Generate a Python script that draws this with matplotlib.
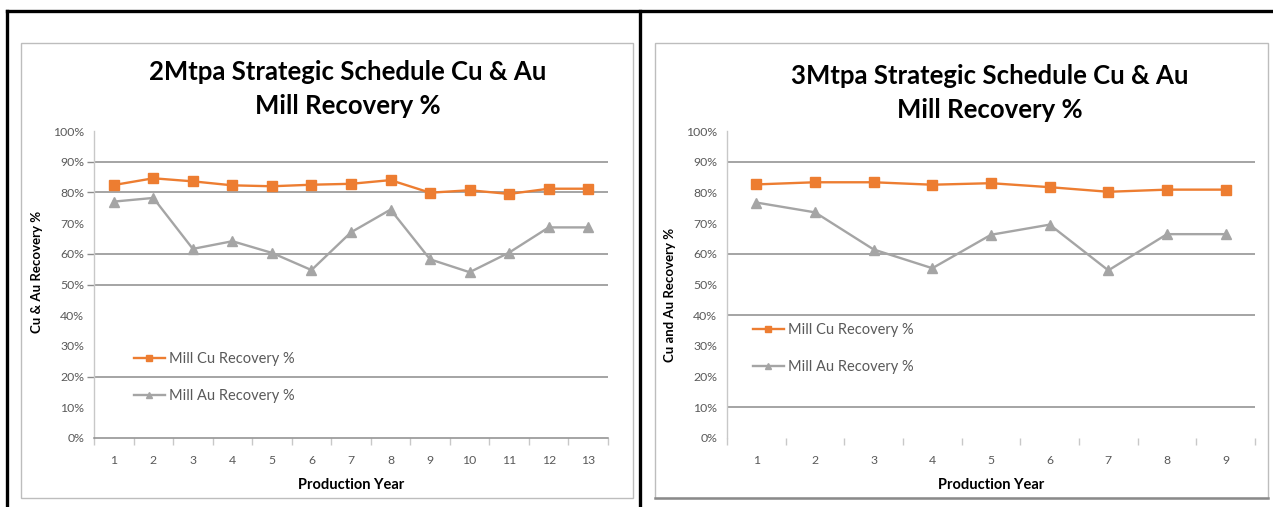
import matplotlib
matplotlib.use("Agg")
import matplotlib.pyplot as plt
from matplotlib.lines import Line2D
from matplotlib.patches import Rectangle

# ---- data -------------------------------------------------------------
years_2mtpa = [1, 2, 3, 4, 5, 6, 7, 8, 9, 10, 11, 12, 13]
cu_2mtpa = [82.4, 84.6, 83.6, 82.3, 82.0, 82.5, 82.8, 84.0, 79.9, 80.7, 79.5, 81.2, 81.2]
au_2mtpa = [77.0, 78.2, 61.6, 64.1, 60.3, 54.7, 67.0, 74.4, 58.2, 54.0, 60.4, 68.6, 68.6]

years_3mtpa = [1, 2, 3, 4, 5, 6, 7, 8, 9]
cu_3mtpa = [82.6, 83.3, 83.3, 82.5, 83.0, 81.7, 80.2, 80.9, 80.9]
au_3mtpa = [76.7, 73.5, 61.4, 55.3, 66.2, 69.5, 54.6, 66.4, 66.4]

y_ticks = [0, 10, 20, 30, 40, 50, 60, 70, 80, 90, 100]
grid_2mtpa = [20, 50, 60, 80, 90]
grid_3mtpa = [10, 40, 60, 90]

cu_label = "Mill Cu Recovery %"
au_label = "Mill Au Recovery %"

# ---- style ------------------------------------------------------------
FONT = "Lato"
ORANGE = "#ED7D31"
GREY = "#A5A5A5"
TEXT = "#595959"
GRID = "#8C8C8C"
AXIS = "#C8C8C8"

W, H = 1273, 507
fig = plt.figure(figsize=(W / 100, H / 100), dpi=100)


def fx(px):
    return px / W


def fy(py):
    return 1 - py / H


# table frame
for (x0, y0, x1, y1) in [(7, 11, W, 11), (7, 11, 7, H), (640, 11, 640, H)]:
    fig.add_artist(Line2D([fx(x0), fx(x1)], [fy(y0), fy(y1)], color="black",
                          lw=2.4, transform=fig.transFigure))

# chart borders
for (x0, x1) in [(21, 633), (655, 1268)]:
    fig.add_artist(Rectangle((fx(x0), fy(498)), fx(x1 - x0), (498 - 43) / H,
                             transform=fig.transFigure, fill=False,
                             edgecolor="#BDBDBD", lw=1.0))
fig.add_artist(Line2D([fx(655), fx(1268)], [fy(498), fy(498)], color="#8A8A8A",
                      lw=1.8, transform=fig.transFigure))


def make_chart(left_px, right_px, years, cu, au, grid_levels, title, ylabel,
               title_x, title_y, ylabel_x, ylabel_y, legend_xy, bottom_axis,
               ytick_marks):
    ax = fig.add_axes([fx(left_px), fy(438), fx(right_px - left_px), (438 - 131) / H])
    n = len(years)
    ax.set_xlim(0.5, n + 0.5)
    ax.set_ylim(0, 100)

    ax.plot(years, cu, color=ORANGE, lw=1.7, marker="s", ms=6.5,
            label=cu_label, zorder=3)
    ax.plot(years, au, color=GREY, lw=1.7, marker="^", ms=6.5,
            label=au_label, zorder=3)

    # labelled ticks every 10 %, gridlines only at selected levels
    ax.yaxis.remove_overlapping_locs = False
    ax.set_yticks(y_ticks)
    ax.set_yticklabels([f"{v}%" for v in y_ticks])
    ax.set_yticks(grid_levels, minor=True)
    ax.grid(True, axis="y", which="minor", color=GRID, lw=1.1)
    ax.grid(False, axis="y", which="major")
    ax.tick_params(axis="y", which="major", length=0, pad=7,
                   labelsize=8.8, labelcolor=TEXT)
    ax.tick_params(axis="y", which="minor",
                   length=5 if ytick_marks else 0, color=GRID, width=1)

    ax.set_xticks(years)
    ax.set_xticklabels([str(v) for v in years])
    ax.set_xticks([v + 0.5 for v in range(n + 1)], minor=True)
    ax.tick_params(axis="x", which="major", length=0, pad=12,
                   labelsize=8.8, labelcolor=TEXT)
    ax.tick_params(axis="x", which="minor", length=5, color=AXIS, width=1)

    for s in ("top", "right"):
        ax.spines[s].set_visible(False)
    ax.spines["left"].set_color(AXIS)
    ax.spines["left"].set_linewidth(1.0)
    if bottom_axis:
        ax.spines["bottom"].set_color(GRID)
        ax.spines["bottom"].set_linewidth(1.1)
    else:
        ax.spines["bottom"].set_visible(False)

    for lab in ax.get_xticklabels() + ax.get_yticklabels():
        lab.set_fontfamily(FONT)

    fig.text(fx(title_x), fy(title_y), title, ha="center", va="center",
             fontsize=18.5, fontweight="bold", family=FONT, color="black",
             linespacing=1.55)
    fig.text(fx(ylabel_x), fy(ylabel_y), ylabel, rotation=90, ha="center",
             va="center", fontsize=9.5, fontweight="bold", family=FONT)
    fig.text(fx((left_px + right_px) / 2), fy(485), "Production Year",
             ha="center", va="center", fontsize=10.5, fontweight="bold",
             family=FONT)

    leg = ax.legend(loc="upper left",
                    bbox_to_anchor=(fx(legend_xy[0]), fy(legend_xy[1])),
                    bbox_transform=fig.transFigure, frameon=False,
                    prop={"family": FONT, "size": 10.5}, labelspacing=1.6,
                    handlelength=2.1, handletextpad=0.3, markerscale=0.75,
                    borderaxespad=0, borderpad=0)
    for t in leg.get_texts():
        t.set_color(TEXT)
    return ax


make_chart(94, 608, years_2mtpa, cu_2mtpa, au_2mtpa, grid_2mtpa,
           "2Mtpa Strategic Schedule Cu & Au\nMill Recovery %",
           "Cu & Au Recovery %", 348, 89, 37, 272, (134, 352), True, True)
make_chart(727, 1255, years_3mtpa, cu_3mtpa, au_3mtpa, grid_3mtpa,
           "3Mtpa Strategic Schedule Cu & Au\nMill Recovery %",
           "Cu and Au Recovery %", 990, 93, 670, 295, (753, 323), False, False)

fig.savefig("out.png", dpi=100, facecolor="white")
